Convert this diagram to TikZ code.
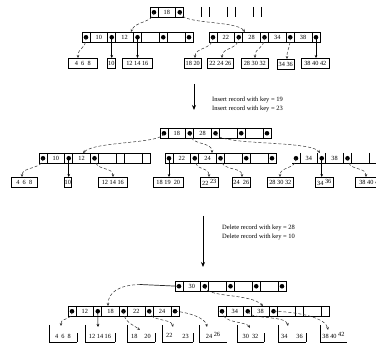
\documentclass[tikz,border=0pt]{standalone}
\usepackage{fontspec}
\setmainfont{Liberation Serif}
\usetikzlibrary{arrows.meta}
\tikzset{
 box/.style={draw=black, line width=0.6pt},
 keyt/.style={inner sep=0pt, font=\fontsize{6.3}{6.3}\selectfont},
 leaf/.style={draw=black, line width=0.6pt, inner sep=0pt, minimum height=10pt, anchor=north west, font=\fontsize{6.3}{6.3}\selectfont},
 leaftxt/.style={inner sep=0pt, font=\fontsize{6.3}{6.3}\selectfont},
 conn/.style={draw=black!80, line width=0.5pt, densely dashed, -{Stealth[length=3pt,width=2.6pt]}},
 connstr/.style={draw=black, line width=0.6pt, -{Stealth[length=3pt,width=2.6pt]}},
 connline/.style={draw=black!85, line width=0.7pt},
 bigarrow/.style={draw=black, line width=1pt, -{Stealth[length=5pt,width=4pt]}},
 note/.style={inner sep=0pt, anchor=west, font=\fontsize{6.5}{7}\selectfont},
 dotc/.style={fill=black},
}
\newcommand\BPnode[8]{%
 \begin{scope}[shift={(#2,#3)}]
  \draw[box] (0,0) rectangle (111,10.5);
  \foreach \xx in {8,25.75,33.75,51.5,59.5,77.25,85.25,103} {\draw[box] (\xx,0) -- (\xx,10.5);}
  \foreach \i in {0,...,4} {\coordinate (#1-p\i) at ({4+25.75*\i},5.25);}
  \foreach \i in {#4} {\fill[dotc] (#1-p\i) circle[radius=2.3pt];}
  \node[keyt] (#1-k1) at (16.875,5.25) {#5};
  \node[keyt] (#1-k2) at (42.625,5.25) {#6};
  \node[keyt] (#1-k3) at (68.375,5.25) {#7};
  \node[keyt] (#1-k4) at (94.125,5.25) {#8};
 \end{scope}}
\newcommand\OpenLeaf[5]{% name, left x, right x, text, right line? (1/0)
 \draw[box] (#2,325) -- (#2,342) -- (#3,342);
 \ifnum#5=1 \draw[box] (#3,342) -- (#3,333);\fi
 \node[leaftxt, anchor=base] (#1) at ({(#2+#3)/2},339) {#4};}
\begin{document}
\begin{tikzpicture}[x=1pt,y=-1pt]
\clip (0,0) rectangle (376,345);
\fill[white] (0,0) rectangle (376,345);

% ===== Section 1 =====
\begin{scope}[shift={(150,7)}]
 \draw[box] (0,0) rectangle (33.75,10.5);
 \foreach \xx in {8,25.75} {\draw[box] (\xx,0) -- (\xx,10.5);}
 \foreach \xx in {51.5,59.5,77.25,85.25,103,111} {\draw[box] (\xx,0) -- (\xx,10.5);}
 \coordinate (R1-p0) at (4,5.25);
 \coordinate (R1-p1) at (29.75,5.25);
 \fill[dotc] (R1-p0) circle[radius=2.3pt];
 \fill[dotc] (R1-p1) circle[radius=2.3pt];
 \node[keyt] (R1-k1) at (16.875,5.25) {18};
\end{scope}
\BPnode{L1}{82}{32}{0,1,2,3,4}{10}{12}{}{}
\BPnode{N1}{209}{32}{0,1,2,3,4}{22}{28}{34}{38}

\node[leaf, minimum width=29] (a1) at (68,58) {4\enspace 6\enspace 8};
\node[leaf, minimum width=8] (b1) at (107,58) {10};
\node[leaf, minimum width=30] (c1) at (122,58) {12 14 16};
\node[leaf, minimum width=17] (d1) at (184,58) {18 20};
\node[leaf, minimum width=26] (e1) at (207,58) {22 24 26};
\node[leaf, minimum width=27] (f1) at (241,58) {28 30 32};
\node[leaf, minimum width=17] (g1) at (277,59) {34 36};
\node[leaf, minimum width=28] (h1) at (301,58) {38 40 42};

\coordinate (t11) at (131,32);
\coordinate (t12) at (245,32);
\draw[conn] (R1-p0) .. controls (153,23) and (135,21) .. (t11);
\draw[conn] (R1-p1) .. controls (181,25) and (236,20) .. (t12);

\coordinate (ta1) at (78,58);
\coordinate (td1) at (195,58);
\coordinate (te1) at (222,58);
\coordinate (tf1) at (255,58);
\coordinate (tg1) at (287,59);
\draw[conn] (L1-p0) .. controls (86,50) and (78,47) .. (ta1);
\draw[connstr] (L1-p1) -- (L1-p1 |- b1.north);
\draw[connstr] (L1-p2) -- (L1-p2 |- c1.north);
\draw[conn] (N1-p0) .. controls (213,50) and (195,47) .. (td1);
\draw[conn] (N1-p1) .. controls (239,50) and (222,47) .. (te1);
\draw[conn] (N1-p2) .. controls (264,50) and (255,47) .. (tf1);
\draw[conn] (N1-p3) .. controls (290,50) and (287,48) .. (tg1);
\draw[connstr] (N1-p4) -- (N1-p4 |- h1.north);

% ===== Arrow 1 =====
\coordinate (A1s) at (194,84);
\coordinate (A1e) at (194,110);
\draw[bigarrow] (A1s) -- (A1e);
\node[note] (n1) at (212,100) {Insert record with key = 19};
\node[note] (n2) at (212,109) {Insert record with key = 23};

% ===== Section 2 =====
\BPnode{R2}{160}{128}{0,1,2,3,4}{18}{28}{}{}
\BPnode{L2}{39}{153}{0,1,2}{10}{12}{}{}
\BPnode{M2}{165}{153}{0,1,2,3,4}{22}{24}{}{}
\begin{scope}[shift={(292,153)}]
 \draw[box] (0,10.5) -- (90,10.5);
 \foreach \xx in {8,25.75,33.75,51.5,59.5,77.25,85.25} {\draw[box] (\xx,0) -- (\xx,10.5);}
 \foreach \i in {0,1,2} {\coordinate (Q2-p\i) at ({4+25.75*\i},5.25);}
 \foreach \i in {0,1,2} {\fill[dotc] (Q2-p\i) circle[radius=2.3pt];}
 \node[keyt] (Q2-k1) at (16.875,5.25) {34};
 \node[keyt] (Q2-k2) at (42.625,5.25) {38};
\end{scope}

\node[leaf, minimum width=26] (a2) at (11,177) {4\enspace 6\enspace 8};
\node[leaf, minimum width=7] (b2) at (64,177) {10};
\node[leaf, minimum width=29] (c2) at (98,177) {12 14 16};
\node[leaf, minimum width=30] (d2) at (153,177) {18 19\enspace 20};
\node[leaf, minimum width=18] (e2) at (200,177) {22 \raisebox{1.5pt}{23}};
\node[leaf, minimum width=18] (f2) at (232,177) {24\enspace 26};
\node[leaf, minimum width=26] (g2) at (267,177) {28 30 32};
\node[leaf, minimum width=18] (h2) at (315,177) {34 \raisebox{1.5pt}{36}};
\node[leaf, minimum width=30] (i2) at (355,177) {38 40 42};

\coordinate (t21) at (83,153);
\coordinate (t22) at (212,153);
\coordinate (t23) at (320,153);
\draw[conn] (R2-p0) .. controls (163,144) and (95,141) .. (t21);
\draw[conn] (R2-p1) .. controls (190,146) and (212,141) .. (t22);
\draw[conn] (R2-p2) .. controls (217,146) and (310,140) .. (t23);

\coordinate (ta2) at (22,177);
\coordinate (tc2) at (113,177);
\coordinate (te2) at (209,177);
\coordinate (tf2) at (242,177);
\coordinate (tg2) at (280,177);
\coordinate (ti2) at (366,177);
\draw[conn] (L2-p0) .. controls (43,170) and (22,166) .. (ta2);
\draw[connstr] (L2-p1) -- (L2-p1 |- b2.north);
\draw[conn] (L2-p2) .. controls (95,172) and (113,166) .. (tc2);
\draw[connstr] (M2-p0) -- (M2-p0 |- d2.north);
\draw[conn] (M2-p1) .. controls (195,172) and (209,166) .. (te2);
\draw[conn] (M2-p2) .. controls (221,172) and (242,166) .. (tf2);
\draw[conn] (Q2-p0) .. controls (296,170) and (280,166) .. (tg2);
\draw[connstr] (Q2-p1) -- (Q2-p1 |- h2.north);
\draw[conn] (Q2-p2) .. controls (348,172) and (366,166) .. (ti2);

% ===== Arrow 2 =====
\coordinate (A2s) at (203,216);
\coordinate (A2e) at (203,267);
\draw[bigarrow] (A2s) -- (A2e);
\node[note] (n3) at (222,228) {Delete record with key = 28};
\node[note] (n4) at (222,237) {Delete record with key = 10};

% ===== Section 3 =====
\BPnode{R3}{175}{281}{0,1,2,3,4}{30}{}{}{}
\BPnode{L3}{68}{306}{0,1,2,3,4}{12}{18}{22}{24}
\BPnode{Q3}{218}{306}{0,1,2}{34}{38}{}{}

\OpenLeaf{a3}{49}{77}{4\enspace 6\enspace 8}{1}
\OpenLeaf{b3}{85}{115}{12 14 16}{1}
\OpenLeaf{c3}{127}{155}{18\hspace{7pt}20}{1}
\OpenLeaf{d3}{162}{193}{\raisebox{1.5pt}{22}\hspace{10pt}23}{1}
\OpenLeaf{e3}{199}{227}{24 \raisebox{2pt}{26}\hspace{6pt}}{0}
\OpenLeaf{f3}{237}{264}{30\enspace 32}{1}
\OpenLeaf{g3}{278}{306}{34\hspace{9pt}36}{1}
\OpenLeaf{h3}{320}{347}{38 40 \raisebox{2pt}{42}}{0}

\coordinate (k3) at (140,284.5);
\coordinate (t31) at (108,306);
\coordinate (t32) at (263,306);
\draw[connline] (R3-p0) -- (k3);
\draw[conn] (k3) .. controls (118,285) and (108,293) .. (t31);
\draw[conn] (R3-p1) .. controls (205,298) and (250,293) .. (t32);

\coordinate (ta3) at (61,326);
\coordinate (tb3) at (98,327);
\coordinate (tc3) at (140,330);
\coordinate (td3) at (173,327);
\coordinate (te3) at (207,327);
\coordinate (tf3) at (250,328);
\coordinate (tg3) at (288,326);
\coordinate (th3) at (328,330);
\draw[conn] (L3-p0) .. controls (72,322) and (61,316) .. (ta3);
\draw[connstr] (L3-p1) -- (tb3);
\draw[conn] (L3-p2) .. controls (124,322) and (132,324) .. (tc3);
\draw[conn] (L3-p3) .. controls (150,322) and (171,318) .. (td3);
\draw[conn] (L3-p4) .. controls (186,312) and (205,317) .. (te3);
\draw[conn] (Q3-p0) .. controls (222,324) and (246,321) .. (tf3);
\draw[conn] (Q3-p1) .. controls (249,320) and (286,315) .. (tg3);
\draw[conn] (Q3-p2) .. controls (300,312) and (326,318) .. (th3);
\end{tikzpicture}
\end{document}
